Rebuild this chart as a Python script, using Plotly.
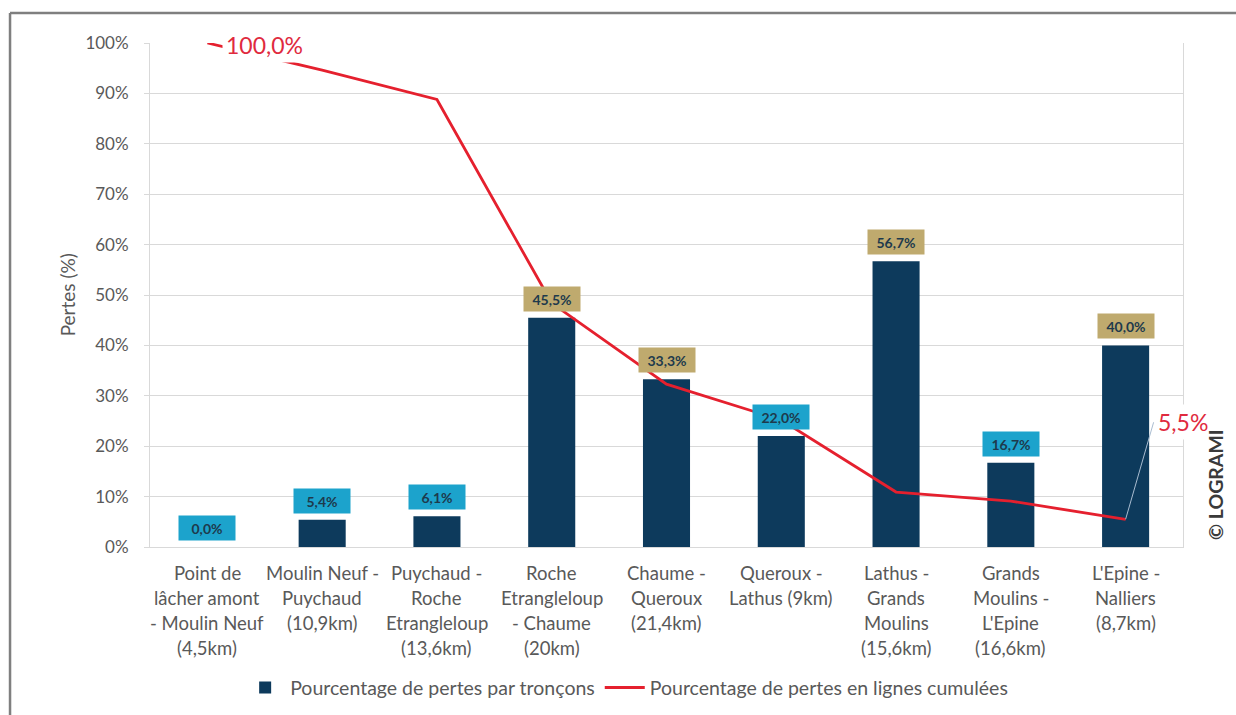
import plotly.graph_objects as go

# ---- data ----
categories = [
    "Point de\nlâcher amont\n- Moulin Neuf\n(4,5km)",
    "Moulin Neuf -\nPuychaud\n(10,9km)",
    "Puychaud -\nRoche\nEtrangleloup\n(13,6km)",
    "Roche\nEtrangleloup\n- Chaume\n(20km)",
    "Chaume -\nQueroux\n(21,4km)",
    "Queroux -\nLathus (9km)",
    "Lathus -\nGrands\nMoulins\n(15,6km)",
    "Grands\nMoulins -\nL'Epine\n(16,6km)",
    "L'Epine -\nNalliers\n(8,7km)",
]
pertes_troncons = [0.0, 5.4, 6.1, 45.5, 33.3, 22.0, 56.7, 16.7, 40.0]
pertes_cumulees = [100.0, 94.6, 88.8, 48.4, 32.3, 25.2, 10.9, 9.1, 5.5]
y_ticks = [0, 10, 20, 30, 40, 50, 60, 70, 80, 90, 100]
y_ticklabels = [f"{v}%" for v in y_ticks]
bar_name = "Pourcentage de pertes par tronçons"
line_name = "Pourcentage de pertes en lignes cumulées"

FONT = "Lato"
GREY = "#595959"
NAVY = "#0D3A5C"
RED = "#E5202E"
GOLD = "#BFAA6E"
CYAN = "#1CA3CC"

def fmt(v):
    return f"{v:.1f}".replace(".", ",") + "%"

x_ids = list(range(len(categories)))

fig = go.Figure()
fig.add_trace(go.Bar(
    x=x_ids, y=pertes_troncons, name=bar_name,
    marker=dict(color=NAVY, line=dict(width=0)),
))
fig.add_trace(go.Scatter(
    x=x_ids, y=pertes_cumulees, name=line_name, mode="lines",
    line=dict(color=RED, width=2.8),
))

annotations = []
# bar data labels
for xi, v in zip(x_ids, pertes_troncons):
    annotations.append(dict(
        x=xi, y=v, xref="x", yref="y", text=f"<b>{fmt(v)}</b>",
        showarrow=False, yshift=19, yanchor="middle",
        bgcolor=GOLD if v > 30 else CYAN, width=54, height=22,
        font=dict(family=FONT, size=14, color="#1E3A4C"),
    ))
# line labels (first and last)
annotations.append(dict(
    x=x_ids[0], y=pertes_cumulees[0], xref="x", yref="y",
    text=fmt(pertes_cumulees[0]), showarrow=False, xshift=57, yshift=-2,
    bgcolor="white", borderpad=3,
    font=dict(family=FONT, size=23, color="#E02A3E"),
))
annotations.append(dict(
    x=x_ids[-1], y=pertes_cumulees[-1], xref="x", yref="y",
    text=fmt(pertes_cumulees[-1]), showarrow=True, arrowhead=0,
    arrowwidth=1, arrowcolor="#A9BCD0", ax=28, ay=-97,
    xanchor="left", yanchor="middle",
    bgcolor="white", borderpad=3,
    font=dict(family=FONT, size=23, color="#E02A3E"),
))
# category labels (one annotation per line)
for xi, cat in zip(x_ids, categories):
    for li, line in enumerate(cat.split("\n")):
        annotations.append(dict(
            x=xi, y=0, xref="x", yref="paper", text=line, showarrow=False,
            yanchor="middle", yshift=-26 - 25 * li,
            font=dict(family=FONT, size=18.5, color=GREY),
        ))
# y axis title
annotations.append(dict(
    x=-0.08, y=0.5, xref="paper", yref="paper", text="Pertes (%)",
    textangle=-90, showarrow=False, xanchor="center", yanchor="middle",
    font=dict(family=FONT, size=19, color=GREY),
))
# copyright
annotations.append(dict(
    x=1.031, y=0.123, xref="paper", yref="paper", text="<b>© LOGRAMI</b>",
    textangle=-90, showarrow=False, xanchor="center", yanchor="middle",
    font=dict(family=FONT, size=19.5, color="#3A3A3A"),
))

shapes = [
    dict(type="line", xref="paper", yref="paper", x0=-0.1355, x1=1.06,
         y0=1.0595, y1=1.0595, line=dict(color="#7F7F7F", width=2.5)),
    dict(type="line", xref="paper", yref="paper", x0=-0.1355, x1=-0.1355,
         y0=1.0595, y1=-0.34, line=dict(color="#7F7F7F", width=2.5)),
]

fig.update_layout(
    width=1236, height=715,
    margin=dict(l=150, r=53, t=43, b=168),
    paper_bgcolor="white", plot_bgcolor="white",
    bargap=0.59,
    font=dict(family=FONT, color=GREY),
    showlegend=True,
    legend=dict(
        orientation="h", xref="container", x=0.507, xanchor="center",
        yref="container", y=0.038, yanchor="middle",
        font=dict(family=FONT, size=19.5, color=GREY),
        itemwidth=40, tracegroupgap=0,
    ),
    annotations=annotations,
    shapes=shapes,
    xaxis=dict(
        tickvals=x_ids, showticklabels=False, range=[-0.5, len(categories) - 0.5],
        showgrid=False, showline=True, linecolor="#D9D9D9", linewidth=1,
        zeroline=False, ticks="",
    ),
    yaxis=dict(
        range=[0, 100], tickvals=y_ticks, ticktext=y_ticklabels,
        showgrid=True, gridcolor="#D9D9D9", gridwidth=1,
        showline=True, mirror=True, linecolor="#D9D9D9", linewidth=1,
        zeroline=False, ticks="outside", ticklen=5, tickcolor="#D9D9D9",
        ticklabelstandoff=12,
        tickfont=dict(family=FONT, size=17, color=GREY),
    ),
)

fig.write_html("out.html", config={"displayModeBar": False},
               post_script="document.body.style.margin='0';")
